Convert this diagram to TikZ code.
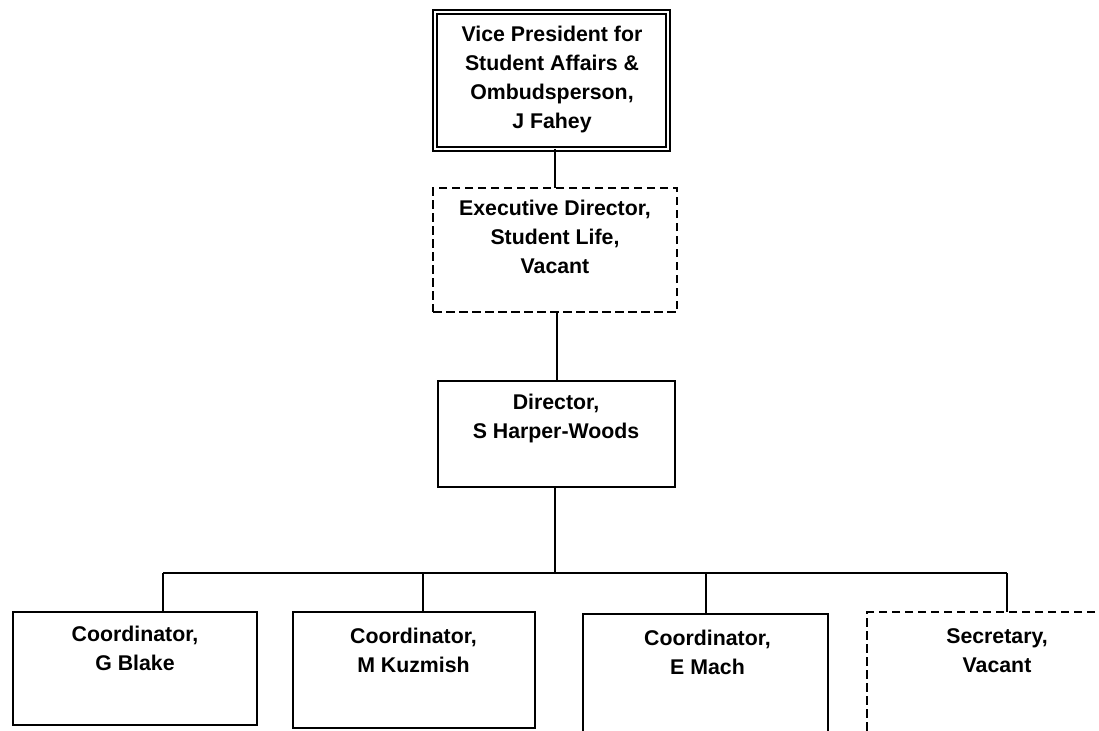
\documentclass[tikz,border=0pt]{standalone}
\usepackage{fontspec}
\setmainfont{Liberation Sans}
\begin{document}
\begin{tikzpicture}[x=1pt,y=-1pt,
  line width=2.3pt,
  box/.style={draw=black,rectangle,inner sep=0pt,outer sep=0pt,line width=2.3pt},
  vbox/.style={box,dashed,dash pattern=on 8.5pt off 4.5pt},
  lbl/.style={align=center,inner sep=0pt,font=\fontsize{21.3}{29}\selectfont\bfseries},
  conn/.style={draw=black,line width=2.3pt}]
\useasboundingbox (0,0) rectangle (1099,730);
\fill[white] (0,0) rectangle (1099,730);
\clip (0,0) rectangle (1099,730);

% top box (double border)
\node[box,line width=2.3pt,double,double distance=2pt,minimum width=233pt,minimum height=137pt] (vp) at (551.5,80.5) {};
\node[lbl] (vpt) at (552,79) {Vice President for\\Student Affairs \&\\Ombudsperson,\\J Fahey};

% executive director (dashed)
\node[vbox,minimum width=244pt,minimum height=124pt] (ed) at (555,250) {};
\node[lbl] (edt) at (555,237) {Executive Director,\\Student Life,\\Vacant};

% director
\node[box,minimum width=237pt,minimum height=106pt] (dir) at (556.5,434) {};
\node[lbl] (dirt) at (556,418) {Director,\\S Harper-Woods};

% bottom boxes
\node[box,minimum width=244pt,minimum height=113pt] (b1) at (135,668.5) {};
\node[lbl] (b1t) at (135,648) {Coordinator,\\G Blake};
\node[box,minimum width=242pt,minimum height=116pt] (b2) at (414,670) {};
\node[lbl] (b2t) at (413.5,650) {Coordinator,\\M Kuzmish};
\node[box,minimum width=245pt,minimum height=170pt] (b3) at (705.5,699) {};
\node[lbl] (b3t) at (707.5,652) {Coordinator,\\E Mach};
\node[vbox,minimum width=300pt,minimum height=200pt] (b4) at (1017,712) {};
\node[lbl] (b4t) at (997,651) {Secretary,\\Vacant};

% connectors
\coordinate (bar) at (555,573);
\coordinate (d1) at (163,573);
\coordinate (d2) at (423,573);
\coordinate (d3) at (706,573);
\coordinate (d4) at (1007,573);

\draw[conn] (vp.south -| 555,0) -- (ed.north -| 555,0);
\draw[conn] (ed.south -| 557,0) -- (dir.north -| 557,0);
\draw[conn] (dir.south -| bar) -- (bar);
\draw[conn] (d1) -- (d4);
\draw[conn] (d1) -- (d1 |- b1.north);
\draw[conn] (d2) -- (d2 |- b2.north);
\draw[conn] (d3) -- (d3 |- b3.north);
\draw[conn] (d4) -- (d4 |- b4.north);
\end{tikzpicture}
\end{document}
